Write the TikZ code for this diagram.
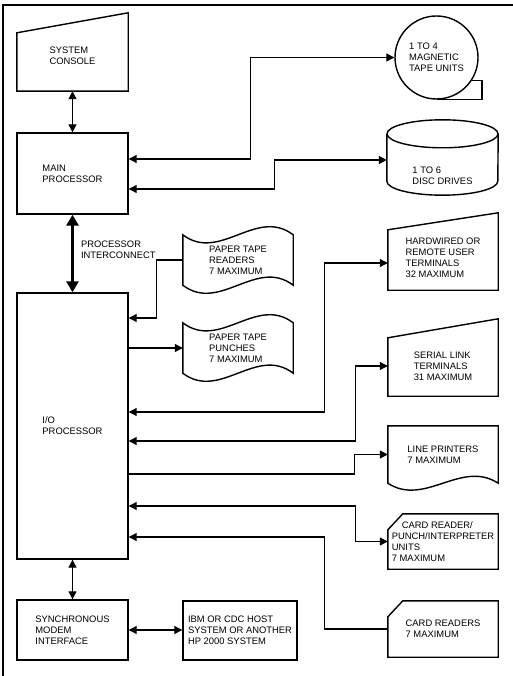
\documentclass[tikz,border=0pt]{standalone}
\usepackage{fontspec}
\setmainfont{Liberation Sans}
\usetikzlibrary{arrows.meta, calc}

\begin{document}
\begin{tikzpicture}[x=1pt,y=-1pt,
  font=\fontsize{9.4}{11}\selectfont,
  blk/.style={draw, line width=1.4pt, inner sep=0pt, align=left, minimum width=111pt},
  hull/.style={inner sep=0pt, align=left, minimum width=110pt},
  outline/.style={line width=1.4pt, line join=miter},
  link/.style={line width=1.1pt, >={Triangle[length=8pt,width=8pt]}},
  bus/.style={line width=3pt, >={Triangle[length=11pt,width=12pt]}}]
\useasboundingbox (0,0) rectangle (513,676);

\draw[line width=1.3pt] (3,676) -- (3,5) -- (513,5);%le cadre

\node[hull, minimum width=111pt, minimum height=70pt] (console) at (72.5,56) {SYSTEM\\CONSOLE};
\node[blk, minimum height=81pt] (main) at (72.5,173.5) {MAIN\\PROCESSOR};
\node[blk, minimum height=266pt] (io) at (72.5,426) {I/O\\PROCESSOR};
\node[blk, minimum height=60pt] (modem) at (72.5,630) {SYNCHRONOUS\\MODEM\\INTERFACE};
\node[blk, minimum width=114pt, minimum height=59pt] (host) at (240,630.5) {IBM OR CDC HOST\\SYSTEM OR ANOTHER\\HP 2000 SYSTEM};

\node[draw, circle, line width=1.4pt, minimum size=83pt, inner sep=0pt, align=left] (tape) at (436.5,57.5) {1 TO 4\\MAGNETIC\\TAPE UNITS};
\node[hull, minimum width=111pt, minimum height=39pt] (disc) at (442.5,175.5) {1 TO 6\\DISC DRIVES};
\node[hull, minimum height=50pt] (readers) at (238,260) {PAPER TAPE\\READERS\\7 MAXIMUM};
\node[hull, minimum height=50pt] (punches) at (238,348) {PAPER TAPE\\PUNCHES\\7 MAXIMUM};
\node[hull, minimum height=65pt] (hwterm) at (443,257.5) {HARDWIRED OR\\REMOTE USER\\TERMINALS\\32 MAXIMUM};
\node[hull, minimum height=60pt] (serial) at (443,366) {SERIAL LINK\\TERMINALS\\31 MAXIMUM};
\node[hull, minimum height=57pt] (printers) at (443,454.5) {LINE PRINTERS\\7 MAXIMUM};
\node[hull, minimum height=55pt] (cardpunch) at (443,541.5) {\hspace*{10pt}CARD READER/\\PUNCH/INTERPRETER\\UNITS\\7 MAXIMUM};
\node[hull, minimum height=56pt] (cardread) at (443,629) {CARD READERS\\7 MAXIMUM};

%les contours
\draw[outline] (console.south west) -- (console.south east) -- ($(console.north east)+(0,-8)$) -- ($(console.north west)+(0,12)$) -- cycle;
\draw[outline] (tape.-33) -| ($(tape.south)+(45.5,0)$) -- (tape.south);
\draw[outline] ($(disc.north)+(0,-22)$) ellipse [x radius=55.5pt, y radius=14pt];
\draw[outline] ($(disc.north west)+(0,-22)$) -- ($(disc.south west)+(0,-14)$) arc[start angle=180, end angle=360, x radius=55.5pt, y radius=14pt] -- ($(disc.north east)+(0,-22)$);
\draw[outline] (readers.north west) .. controls +(37,28) and +(-37,-28) .. (readers.north east) -- (readers.south east) .. controls +(-37,-28) and +(37,28) .. (readers.south west) -- cycle;
\draw[outline] (punches.north west) .. controls +(37,28) and +(-37,-28) .. (punches.north east) -- (punches.south east) .. controls +(-37,-28) and +(37,28) .. (punches.south west) -- cycle;
\draw[outline] (hwterm.south west) -- (hwterm.south east) -- ($(hwterm.north east)+(0,-12)$) -- ($(hwterm.north west)+(0,5)$) -- cycle;
\draw[outline] (serial.south west) -- (serial.south east) -- ($(serial.north east)+(0,-17)$) -- ($(serial.north west)+(0,2)$) -- cycle;
\draw[outline] (printers.south west) -- (printers.north west) -- (printers.north east) -- (printers.south east) .. controls +(-37,-24) and +(37,24) .. (printers.south west) -- cycle;
\draw[outline] (cardpunch.south west) -- (cardpunch.south east) -- (cardpunch.north east) -- ($(cardpunch.north west)+(15,0)$) -- ($(cardpunch.north west)+(0,16)$) -- cycle;
\draw[outline] (cardread.south west) -- (cardread.south east) -- (cardread.north east) -- ($(cardread.north west)+(15,0)$) -- ($(cardread.north west)+(0,16)$) -- cycle;

%les liaisons
\draw[link, <->] (console) -- (main);
\draw[bus, <->] (main) -- (io) node[pos=0.45, right=7pt, align=left, inner sep=0pt] (buslabel) {PROCESSOR\\INTERCONNECT};
\draw[link, <->] (io) -- (modem);
\draw[link, <->] (modem.east) -- (modem.east -| host.west);
\draw[link, <->] (tape.west) -| ($(main.east)+(122,-14.5)$) -- ($(main.east)+(0,-14.5)$);
\draw[link, <->] ($(main.east)+(0,15.5)$) -| ($(disc.west)+(-112,-15.5)$) -- ($(disc.west)+(0,-15.5)$);
\draw[link, ->] (readers.west) -| ($(io.east)+(28,-108)$) -- ($(io.east)+(0,-108)$);
\draw[link, ->] ($(io.east)+(0,-78)$) -- (punches.west);
\draw[link, <->] ($(hwterm.west)+(0,5.5)$) -| ($(io.east)+(196,-14)$) -- ($(io.east)+(0,-14)$);
\draw[link, <->] (serial.west) -| ($(io.east)+(227,15)$) -- ($(io.east)+(0,15)$);
\draw[link, ->] ($(io.east)+(0,48)$) -| ($(printers.west)+(-33,0)$) -- (printers.west);
\draw[link, <->] (cardpunch.west) -| ($(io.east)+(227,80)$) -- ($(io.east)+(0,80)$);
\draw[link, ->] (cardread.west) -| ($(io.east)+(196,111)$) -- ($(io.east)+(0,111)$);
\end{tikzpicture}
\end{document}
